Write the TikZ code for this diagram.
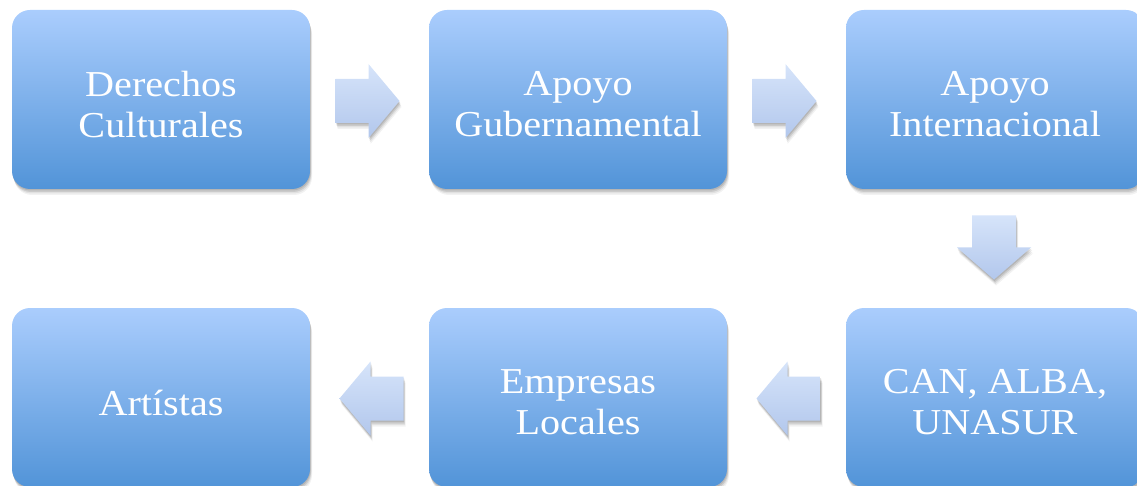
\documentclass[tikz,border=0pt]{standalone}
\usepackage{fontspec}
\setmainfont{Liberation Serif}[FakeStretch=1.1]
\usetikzlibrary{calc,shadows}
\definecolor{boxtop}{RGB}{170,205,253}
\definecolor{boxbot}{RGB}{82,148,216}
\definecolor{arrtop}{RGB}{214,228,250}
\definecolor{arrbot}{RGB}{178,199,236}
\tikzset{
  softshadow/.style={
    drop shadow={shadow xshift=0.5pt, shadow yshift=-1.5pt, opacity=0.10, fill=black},
    drop shadow={shadow xshift=1pt, shadow yshift=-3pt, opacity=0.10, fill=black},
    drop shadow={shadow xshift=1.5pt, shadow yshift=-4.5pt, opacity=0.07, fill=black},
    drop shadow={shadow xshift=2pt, shadow yshift=-6pt, opacity=0.05, fill=black}},
  box/.style={rounded corners=18pt, minimum width=298pt, minimum height=179pt,
    inner sep=0pt, top color=boxtop, bottom color=boxbot, draw=none, softshadow},
  lbl/.style={text=white, align=center, font=\fontsize{36.5}{41}\selectfont},
  blockarr/.style={top color=arrtop, bottom color=arrbot, draw=none, softshadow},
}
\newcommand\rightblock[1]{%
  \path[blockarr] ($(#1)+(-32,-22)$) -- ($(#1)+(1,-22)$) -- ($(#1)+(1,-37)$) -- ($(#1)+(32,0)$)
    -- ($(#1)+(1,37)$) -- ($(#1)+(1,22)$) -- ($(#1)+(-32,22)$) -- cycle;}
\newcommand\leftblock[1]{%
  \path[blockarr] ($(#1)+(32,-22)$) -- ($(#1)+(-1,-22)$) -- ($(#1)+(-1,-37)$) -- ($(#1)+(-32,0)$)
    -- ($(#1)+(-1,37)$) -- ($(#1)+(-1,22)$) -- ($(#1)+(32,22)$) -- cycle;}
\newcommand\downblock[1]{%
  \path[blockarr] ($(#1)+(-22,-32)$) -- ($(#1)+(22,-32)$) -- ($(#1)+(22,0)$) -- ($(#1)+(37,0)$)
    -- ($(#1)+(0,32)$) -- ($(#1)+(-37,0)$) -- ($(#1)+(-22,0)$) -- cycle;}
\begin{document}
\begin{tikzpicture}[x=1pt,y=-1pt]
\useasboundingbox (0,0) rectangle (1137,486);
\clip (0,0) rectangle (1137,486);
% boxes
\node[box] (b1) at (161,99.5) {};
\node[box] (b2) at (578,99.5) {};
\node[box] (b3) at (995,99.5) {};
\node[box] (b4) at (995,397.5) {};
\node[box] (b5) at (578,397.5) {};
\node[box] (b6) at (161,397.5) {};
% labels
\node[lbl] (t1) at ($(b1.center)+(0,5)$) {Derechos\\Culturales};
\node[lbl] (t2) at ($(b2.center)+(0,5)$) {Apoyo\\Gubernamental};
\node[lbl] (t3) at ($(b3.center)+(0,5)$) {Apoyo\\Internacional};
\node[lbl] (t4) at ($(b4.center)+(0,5)$) {CAN, ALBA,\\UNASUR};
\node[lbl] (t5) at ($(b5.center)+(0,5)$) {Empresas\\Locales};
\node[lbl] (t6) at ($(b6.center)+(0,5)$) {Artístas};
% arrow anchors
\coordinate (m1) at ($($(b1.east)!.5!(b2.west)$)+(-2,1.5)$);
\coordinate (m2) at ($($(b2.east)!.5!(b3.west)$)+(-2,1.5)$);
\coordinate (m3) at ($($(b3.south)!.5!(b4.north)$)+(-1,-1)$);
\coordinate (m4) at ($($(b4.west)!.5!(b5.east)$)+(2,1)$);
\coordinate (m5) at ($($(b5.west)!.5!(b6.east)$)+(2,1)$);
\rightblock{m1}
\rightblock{m2}
\downblock{m3}
\leftblock{m4}
\leftblock{m5}
\end{tikzpicture}
\end{document}
